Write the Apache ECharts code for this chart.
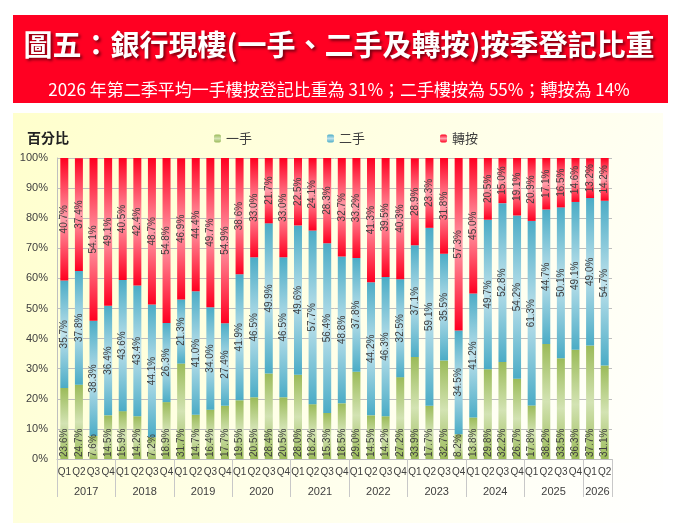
<!DOCTYPE html>
<html>
<head>
<meta charset="utf-8">
<script src="https://cdn.jsdelivr.net/npm/echarts@6/dist/echarts.min.js"></script>
<style>
html,body{margin:0;padding:0;background:#fff;}
#c{width:678px;height:531px;}
</style>
</head>
<body>
<div id="c"></div>
<script>
// ---- data ----
const years = ['2017','2018','2019','2020','2021','2022','2023','2024','2025','2026'];
const quartersPerYear = [4,4,4,4,4,4,4,4,4,2];
const quarterNames = ['Q1','Q2','Q3','Q4'];
const seriesNames = ['一手','二手','轉按'];
const firstHand = [23.6,24.7,7.6,14.5, 15.9,14.2,7.2,18.9, 31.7,14.7,16.4,17.7, 19.5,20.5,28.4,20.5,
  28.0,18.2,15.3,18.5, 29.0,14.5,14.2,27.2, 33.9,17.7,32.7,8.2, 13.8,29.8,32.2,26.7,
  17.8,38.2,33.5,36.3, 37.7,31.1];
const secondHand = [35.7,37.8,38.3,36.4, 43.6,43.4,44.1,26.3, 21.3,41.0,34.0,27.4, 41.9,46.5,49.9,46.5,
  49.6,57.7,56.4,48.8, 37.8,44.2,46.3,32.5, 37.1,59.1,35.5,34.5, 41.2,49.7,52.8,54.2,
  61.3,44.7,50.1,49.1, 49.0,54.7];
const remortgage = [40.7,37.4,54.1,49.1, 40.5,42.4,48.7,54.8, 46.9,44.4,49.7,54.9, 38.6,33.0,21.7,33.0,
  22.5,24.1,28.3,32.7, 33.2,41.3,39.5,40.3, 28.9,23.3,31.8,57.3, 45.0,20.5,15.0,19.1,
  20.9,17.1,16.5,14.6, 13.2,14.2];
const titleText = '圖五：銀行現樓(一手、二手及轉按)按季登記比重';
const subtitleText = '2026 年第二季平均一手樓按登記比重為 31%；二手樓按為 55%；轉按為 14%';
const yAxisName = '百分比';

// ---- build categories ----
const categories = [];
const yearStart = new Set();
const yearLabelAt = {};
years.forEach((y, i) => {
  const start = categories.length;
  yearStart.add(start);
  for (let q = 0; q < quartersPerYear[i]; q++) categories.push(y + '|' + quarterNames[q]);
  yearLabelAt[start + quartersPerYear[i] / 2] = y;
});

const GRID_L = 57, GRID_R = 66, GRID_T = 158, GRID_B = 72;
const band = (678 - GRID_L - GRID_R) / categories.length;

function grad(dark, light) {
  return new echarts.graphic.LinearGradient(0, 0, 0, 1, [
    {offset: 0, color: dark}, {offset: 0.5, color: light}, {offset: 1, color: dark}
  ]);
}
const colors = [grad('#9BBB59', '#D3E3B3'), grad('#4BACC6', '#BFE2EC'), grad('#FF0020', '#FF9EAA')];
const fmt = p => Number(p.value).toFixed(1) + '%';
const labelBase = {show: true, rotate: 90, fontSize: 10, color: '#404040', fontFamily: 'Liberation Sans', formatter: fmt};

const chart = echarts.init(document.getElementById('c'), null, {renderer: 'canvas'});
chart.setOption({
  animation: false,
  textStyle: {fontFamily: '"Noto Sans CJK TC", "Liberation Sans", sans-serif'},
  graphic: [
    {type: 'rect', z: -10, shape: {x: 13, y: 15, width: 655, height: 88}, style: {fill: '#FF0022'}},
    {type: 'rect', z: -10, shape: {x: 13, y: 113, width: 650, height: 410},
      style: {fill: new echarts.graphic.LinearGradient(0, 0, 1, 1, [
        {offset: 0, color: '#FFFFCC'}, {offset: 0.55, color: '#FFFFEA'}, {offset: 1, color: '#FFFFFF'}])}}
  ],
  title: [
    {text: titleText, left: 'center', top: 25,
      textStyle: {color: '#fff', fontSize: 29, fontWeight: 'bold', fontFamily: '"Noto Sans CJK TC"',
        textShadowColor: 'rgba(0,0,0,0.55)', textShadowBlur: 3, textShadowOffsetX: 2, textShadowOffsetY: 2}},
    {text: subtitleText, left: 'center', top: 76,
      textStyle: {color: '#fff', fontSize: 17, fontWeight: 'normal', fontFamily: '"Noto Sans CJK TC"'}},
    {text: yAxisName, left: 22, top: 126,
      textStyle: {color: '#222', fontSize: 14, fontWeight: 'bold', fontFamily: '"Noto Sans CJK TC"'}}
  ],
  legend: {
    left: 209, top: 127, itemWidth: 7, itemHeight: 8, itemGap: 75,
    textStyle: {color: '#404040', fontSize: 13, fontFamily: '"Noto Sans CJK TC"'},
    data: seriesNames
  },
  grid: {left: GRID_L, right: GRID_R, top: GRID_T, bottom: GRID_B, containLabel: false},
  xAxis: [
    {type: 'category', data: categories, position: 'bottom',
      axisLine: {show: true, lineStyle: {color: '#BFBFBF'}},
      axisTick: {show: true, length: 38, interval: idx => yearStart.has(idx), lineStyle: {color: '#C8C8C8'}},
      axisLabel: {interval: 0, margin: 8, fontSize: 10, color: '#404040', fontFamily: 'Liberation Sans',
        formatter: v => v.split('|')[1]}},
    {type: 'category', data: categories, position: 'bottom', offset: 19,
      axisLine: {show: false}, axisTick: {show: false},
      axisLabel: {interval: 0, margin: 8, fontSize: 11, color: '#404040', fontFamily: 'Liberation Sans',
        formatter: (v, i) => yearLabelAt[i] ? '{y|' + yearLabelAt[i] + '}' : '',
        rich: {y: {fontSize: 11, color: '#404040', fontFamily: 'Liberation Sans', padding: [0, band, 0, 0]}}}}
  ],
  yAxis: {type: 'value', min: 0, max: 100, interval: 10,
    axisLine: {show: true, lineStyle: {color: '#BFBFBF'}}, axisTick: {show: false},
    axisLabel: {formatter: '{value}%', fontSize: 11, color: '#404040', fontFamily: 'Liberation Sans', margin: 9},
    splitLine: {show: true, lineStyle: {color: '#BFBFBF'}}},
  series: [
    {name: seriesNames[0], type: 'bar', stack: 's', data: firstHand, barWidth: 8,
      itemStyle: {color: colors[0]},
      label: Object.assign({}, labelBase, {position: 'insideBottom', distance: 2, align: 'left', verticalAlign: 'middle'})},
    {name: seriesNames[1], type: 'bar', stack: 's', data: secondHand, barWidth: 8,
      itemStyle: {color: colors[1]},
      label: Object.assign({}, labelBase, {position: 'inside', align: 'center', verticalAlign: 'middle'})},
    {name: seriesNames[2], type: 'bar', stack: 's', data: remortgage, barWidth: 8,
      itemStyle: {color: colors[2]},
      label: Object.assign({}, labelBase, {position: 'inside', align: 'center', verticalAlign: 'middle'})}
  ]
});
</script>
</body>
</html>
